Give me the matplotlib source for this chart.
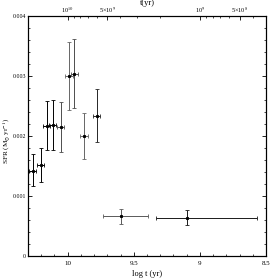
import matplotlib
matplotlib.use("Agg")
import matplotlib.pyplot as plt
import numpy as np

plt.rcParams['font.family'] = ['Liberation Serif', 'DejaVu Serif']
plt.rcParams['mathtext.fontset'] = 'stix'

# log age, SFR and errors
logt = [10.264, 10.204, 10.158, 10.113, 10.052, 9.99, 9.949, 9.876, 9.78, 9.595, 9.095]
sfr = [0.00142, 0.00152, 0.00217, 0.00218, 0.00215, 0.00300, 0.00303, 0.00200, 0.00234, 0.00066, 0.00064]
sfr_hi = [0.00170, 0.00180, 0.00258, 0.00260, 0.00256, 0.00357, 0.00361, 0.00238, 0.00278, 0.00078, 0.00076]
sfr_lo = [0.00116, 0.00123, 0.00177, 0.00177, 0.00174, 0.00243, 0.00246, 0.00162, 0.00190, 0.00053, 0.00052]
logt_hi = [10.29, 10.231, 10.185, 10.140, 10.079, 10.018, 9.977, 9.904, 9.808, 9.734, 9.335]
logt_lo = [10.238, 10.177, 10.131, 10.086, 10.025, 9.962, 9.921, 9.848, 9.752, 9.393, 8.567]
colors = ['k', 'k', 'k', 'k', '0.3', '0.4', '0.3', '0.4', '0.15', '0.35', '0.1']

top_ticks = [1e10, 5e9, 1e9, 5e8]
top_labels = ['10$^{10}$', '5×10$^{9}$', '10$^{9}$', '5×10$^{8}$']

fig = plt.figure(figsize=(2.71, 2.80), dpi=100)
ax = fig.add_axes([0.103, 0.086, 0.879, 0.857])

for i in range(len(logt)):
    ax.errorbar(logt[i], sfr[i],
                yerr=[[sfr[i] - sfr_lo[i]], [sfr_hi[i] - sfr[i]]],
                xerr=[[logt[i] - logt_lo[i]], [logt_hi[i] - logt[i]]],
                fmt='s', ms=1.2, color='k', ecolor=colors[i],
                elinewidth=0.7, capsize=1.3, capthick=0.6)

ax.set_xlim(10.3, 8.5)
ax.set_ylim(0, 0.004)
ax.set_xticks([10, 9.5, 9, 8.5])
ax.set_xticklabels(['10', '9.5', '9', '8.5'])
ax.set_xticks(np.arange(8.5, 10.31, 0.1), minor=True)
ax.set_yticks([0, 0.001, 0.002, 0.003, 0.004])
ax.set_yticklabels(['0', '0.001', '0.002', '0.003', '0.004'])
ax.set_yticks(np.arange(0, 0.0041, 0.0002), minor=True)
ax.tick_params(which='both', direction='in', top=False, right=True, labelsize=5)
ax.tick_params(axis='y', labelsize=4.2, pad=1.5)
ax.tick_params(which='major', length=3, width=0.6)
ax.tick_params(which='minor', length=1.5, width=0.5)
for s in ax.spines.values():
    s.set_linewidth(0.8)
ax.set_xlabel('log t (yr)', fontsize=6, labelpad=3)
ax.set_ylabel('SFR (M$_{\\odot}$ yr$^{-1}$)', fontsize=5.2)
ax.yaxis.set_label_coords(-0.067, 0.48)

ax2 = ax.twiny()
ax2.set_xlim(ax.get_xlim())
ax2.set_xticks(np.log10(top_ticks))
ax2.set_xticklabels(top_labels)
minor = [m * 10.0 ** e for e in (8, 9) for m in range(2, 10)]
minor = [np.log10(v) for v in minor if 8.5 <= np.log10(v) <= 10.3]
ax2.set_xticks(minor, minor=True)
ax2.tick_params(which='both', direction='in', labelsize=4.5, pad=1)
ax2.tick_params(which='major', length=3, width=0.6)
ax2.tick_params(which='minor', length=1.5, width=0.5)
ax2.set_xlabel('t(yr)', fontsize=6, labelpad=0)

fig.savefig('out.png', dpi=100)
